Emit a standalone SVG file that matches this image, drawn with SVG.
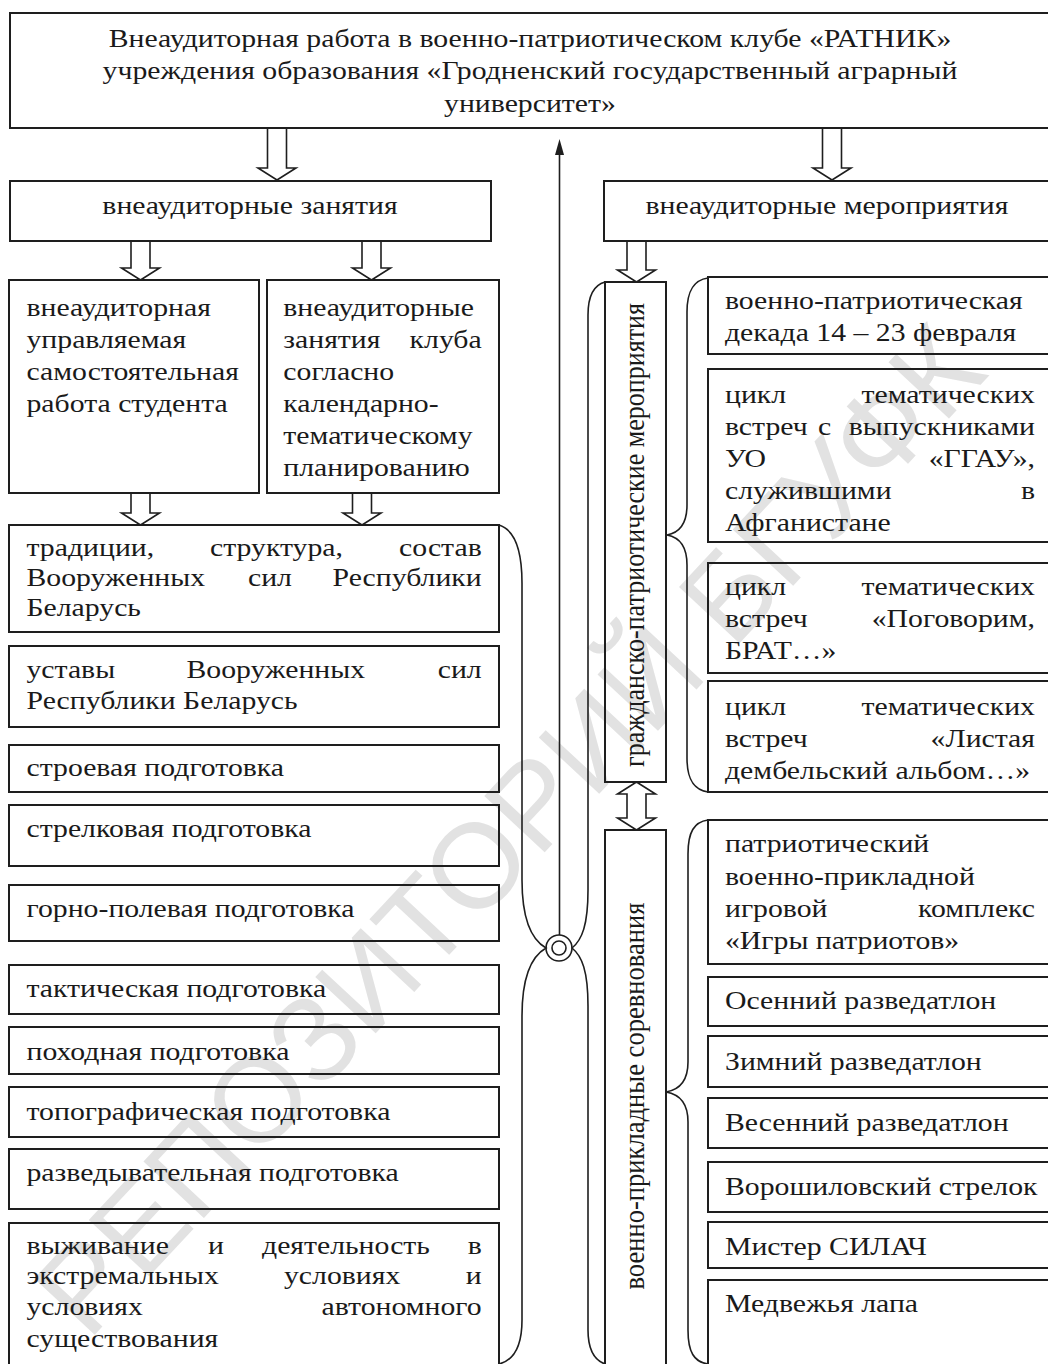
<svg xmlns="http://www.w3.org/2000/svg" width="1048" height="1364" viewBox="0 0 1048 1364">
<style>
.box{fill:none;stroke:#1e1e1e;stroke-width:2}
.t{font-family:"Liberation Serif","Times New Roman",serif;font-size:25px;fill:#1a1a1a}
.m{text-anchor:middle}
.e{text-anchor:end}
.arr{fill:none;stroke:#1e1e1e;stroke-width:1.6;stroke-linejoin:miter}
.br{fill:none;stroke:#1e1e1e;stroke-width:1.6}
.wm{font-family:"Liberation Sans",Arial,sans-serif;font-size:120px;fill:#e2e2e2}
</style>
<rect x="0" y="0" width="1048" height="1364" fill="#ffffff"/>
<g id="watermark"><text class="wm" transform="translate(88,1342) rotate(-47)" x="0" y="0">РЕПОЗИТОРИЙ БГУФК</text></g>

<g id="connectors">
<path class="arr" d="M267.5,128 V168 H258 L277,180 L296,168 H286.5 V128"/>
<path class="arr" d="M822.5,128 V168 H813 L832,180 L851,168 H841.5 V128"/>
<path class="arr" d="M131,241 V268 H121.5 L140.5,280 L159.5,268 H150 V241"/>
<path class="arr" d="M362,241 V268 H352.5 L371.5,280 L390.5,268 H381 V241"/>
<path class="arr" d="M627,241 V270 H617.5 L636.5,282 L655.5,270 H646 V241"/>
<path class="arr" d="M131,493 V513 H121.5 L140.5,525 L159.5,513 H150 V493"/>
<path class="arr" d="M352.5,493 V513 H343 L362,525 L381,513 H371.5 V493"/>
<path class="arr" d="M636.5,782 L655.5,794 H646 V818 H655.5 L636.5,830 L617.5,818 H627 V794 H617.5 Z"/>
<path class="br" d="M559.5,935 V152"/>
<polygon points="559.5,139 564,155 555,155" fill="#1e1e1e"/>
<circle class="br" cx="559" cy="948" r="13"/>
<circle class="br" cx="559" cy="948" r="7"/>
<path class="br" d="M499,525 C515,530 522,550 522,583 L522,880 C522,920 532,940 546,948 C532,956 522,976 522,1016 L522,1320 C522,1345 515,1360 499,1364"/>
<path class="br" d="M605,282 C594,285 588,295 588,315 L588,890 C588,925 582,940 572,948 C582,956 588,971 588,1006 L588,1330 C588,1350 594,1360 605,1364"/>
<path class="br" d="M708,278 C694,280 687,290 687,312 L687,505 C687,525 678,533 667,535 C678,537 687,545 687,565 L687,758 C687,780 694,790 708,792"/>
<path class="br" d="M708,820 C694,822 688,832 688,854 L688,1062 C688,1082 678,1090 666,1092 C678,1094 688,1102 688,1122 L688,1330 C688,1352 694,1362 708,1364"/>
</g>

<g id="n-top"><rect class="box" x="10" y="13" width="1048" height="115"/>
<g transform="scale(1.19 1)">
<text class="t m" x="445.38" y="47">Внеаудиторная работа в военно-патриотическом клубе «РАТНИК»</text>
<text class="t m" x="445.38" y="79">учреждения образования «Гродненский государственный аграрный</text>
<text class="t m" x="445.38" y="112">университет»</text>
</g></g>

<g id="n-zan"><rect class="box" x="10" y="181" width="481" height="60"/>
<g transform="scale(1.19 1)"><text class="t m" x="210.08" y="214">внеаудиторные занятия</text></g></g>

<g id="n-mer"><rect class="box" x="604" y="181" width="454" height="60"/>
<g transform="scale(1.19 1)"><text class="t m" x="694.96" y="214">внеаудиторные мероприятия</text></g></g>

<g id="n-usr"><rect class="box" x="9" y="280" width="250" height="213"/>
<g transform="scale(1.19 1)">
<text class="t" x="22.27" y="316">внеаудиторная</text>
<text class="t" x="22.27" y="348">управляемая</text>
<text class="t" x="22.27" y="380">самостоятельная</text>
<text class="t" x="22.27" y="412">работа студента</text>
</g></g>

<g id="n-klub"><rect class="box" x="267" y="280" width="232" height="213"/>
<g transform="scale(1.19 1)">
<text class="t" x="238.1" y="316">внеаудиторные</text>
<text class="t" y="348"><tspan x="238.1">занятия </tspan><tspan x="404.79" class="e">клуба</tspan></text>
<text class="t" x="238.1" y="380">согласно</text>
<text class="t" x="238.1" y="412">календарно-</text>
<text class="t" x="238.1" y="444">тематическому</text>
<text class="t" x="238.1" y="476">планированию</text>
</g></g>

<g id="n-trad"><rect class="box" x="9" y="525" width="490" height="107"/>
<g transform="scale(1.19 1)">
<text class="t" y="556"><tspan x="22.27">традиции, </tspan><tspan x="176.47">структура, </tspan><tspan x="404.79" class="e">состав</tspan></text>
<text class="t" y="586"><tspan x="22.27">Вооруженных </tspan><tspan x="208.4">сил </tspan><tspan x="404.79" class="e">Республики</tspan></text>
<text class="t" x="22.27" y="616">Беларусь</text>
</g></g>

<g id="n-ust"><rect class="box" x="9" y="646" width="490" height="81"/>
<g transform="scale(1.19 1)">
<text class="t" y="678"><tspan x="22.27">уставы </tspan><tspan x="156.72">Вооруженных </tspan><tspan x="404.79" class="e">сил</tspan></text>
<text class="t" x="22.27" y="709">Республики Беларусь</text>
</g></g>

<g id="n-stroy"><rect class="box" x="9" y="745" width="490" height="47"/>
<g transform="scale(1.19 1)"><text class="t" x="22.27" y="776">строевая подготовка</text></g></g>
<g id="n-strel"><rect class="box" x="9" y="805" width="490" height="61"/>
<g transform="scale(1.19 1)"><text class="t" x="22.27" y="837">стрелковая подготовка</text></g></g>
<g id="n-gorn"><rect class="box" x="9" y="885" width="490" height="56"/>
<g transform="scale(1.19 1)"><text class="t" x="22.27" y="917">горно-полевая подготовка</text></g></g>
<g id="n-takt"><rect class="box" x="9" y="965" width="490" height="49"/>
<g transform="scale(1.19 1)"><text class="t" x="22.27" y="997">тактическая подготовка</text></g></g>
<g id="n-pohod"><rect class="box" x="9" y="1027" width="490" height="47"/>
<g transform="scale(1.19 1)"><text class="t" x="22.27" y="1060">походная подготовка</text></g></g>
<g id="n-topo"><rect class="box" x="9" y="1087" width="490" height="50"/>
<g transform="scale(1.19 1)"><text class="t" x="22.27" y="1120">топографическая подготовка</text></g></g>
<g id="n-razv"><rect class="box" x="9" y="1149" width="490" height="60"/>
<g transform="scale(1.19 1)"><text class="t" x="22.27" y="1181">разведывательная подготовка</text></g></g>
<g id="n-vyzh"><rect class="box" x="9" y="1223" width="490" height="150"/>
<g transform="scale(1.19 1)">
<text class="t" y="1254"><tspan x="22.27">выживание </tspan><tspan x="174.79">и </tspan><tspan x="220.17">деятельность </tspan><tspan x="404.79" class="e">в</tspan></text>
<text class="t" y="1284"><tspan x="22.27">экстремальных </tspan><tspan x="238.66">условиях </tspan><tspan x="404.79" class="e">и</tspan></text>
<text class="t" y="1315"><tspan x="22.27">условиях </tspan><tspan x="404.79" class="e">автономного</tspan></text>
<text class="t" x="22.27" y="1347">существования</text>
</g></g>

<g id="n-grazh"><rect class="box" x="605" y="282" width="61" height="500"/>
<text class="t m" font-size="26" transform="translate(635.5,535) rotate(-90) scale(1 1.19)" x="0" y="7" textLength="464" lengthAdjust="spacingAndGlyphs">гражданско-патриотические мероприятия</text></g>

<g id="n-voen"><rect class="box" x="605" y="830" width="61" height="545"/>
<text class="t m" font-size="26" transform="translate(635.5,1096) rotate(-90) scale(1 1.19)" x="0" y="7" textLength="387" lengthAdjust="spacingAndGlyphs">военно-прикладные соревнования</text></g>

<g id="n-dekada"><rect class="box" x="708" y="277" width="350" height="77"/>
<g transform="scale(1.19 1)">
<text class="t" x="609.24" y="309">военно-патриотическая</text>
<text class="t" x="609.24" y="341">декада 14 – 23 февраля</text>
</g></g>

<g id="n-vypusk"><rect class="box" x="708" y="369" width="350" height="173"/>
<g transform="scale(1.19 1)">
<text class="t" y="403"><tspan x="609.24">цикл </tspan><tspan x="869.75" class="e">тематических</tspan></text>
<text class="t" y="435"><tspan x="609.24">встреч </tspan><tspan x="687.39">с </tspan><tspan x="869.75" class="e">выпускниками</tspan></text>
<text class="t" y="467"><tspan x="609.24">УО </tspan><tspan x="869.75" class="e">«ГГАУ»,</tspan></text>
<text class="t" y="499"><tspan x="609.24">служившими </tspan><tspan x="869.75" class="e">в</tspan></text>
<text class="t" x="609.24" y="531">Афганистане</text>
</g></g>

<g id="n-brat"><rect class="box" x="708" y="563" width="350" height="110"/>
<g transform="scale(1.19 1)">
<text class="t" y="595"><tspan x="609.24">цикл </tspan><tspan x="869.75" class="e">тематических</tspan></text>
<text class="t" y="627"><tspan x="609.24">встреч </tspan><tspan x="869.75" class="e">«Поговорим,</tspan></text>
<text class="t" x="609.24" y="659">БРАТ…»</text>
</g></g>

<g id="n-album"><rect class="box" x="708" y="681" width="350" height="111"/>
<g transform="scale(1.19 1)">
<text class="t" y="715"><tspan x="609.24">цикл </tspan><tspan x="869.75" class="e">тематических</tspan></text>
<text class="t" y="747"><tspan x="609.24">встреч </tspan><tspan x="869.75" class="e">«Листая</tspan></text>
<text class="t" x="609.24" y="779">дембельский альбом…»</text>
</g></g>

<g id="n-igry"><rect class="box" x="708" y="820" width="350" height="144"/>
<g transform="scale(1.19 1)">
<text class="t" x="609.24" y="852">патриотический</text>
<text class="t" x="609.24" y="885">военно-прикладной</text>
<text class="t" y="917"><tspan x="609.24">игровой </tspan><tspan x="869.75" class="e">комплекс</tspan></text>
<text class="t" x="609.24" y="949">«Игры патриотов»</text>
</g></g>

<g id="n-osen"><rect class="box" x="708" y="977" width="350" height="49"/>
<g transform="scale(1.19 1)"><text class="t" x="609.24" y="1009">Осенний разведатлон</text></g></g>
<g id="n-zima"><rect class="box" x="708" y="1036" width="350" height="51"/>
<g transform="scale(1.19 1)"><text class="t" x="609.24" y="1070">Зимний разведатлон</text></g></g>
<g id="n-vesna"><rect class="box" x="708" y="1098" width="350" height="50"/>
<g transform="scale(1.19 1)"><text class="t" x="609.24" y="1131">Весенний разведатлон</text></g></g>
<g id="n-vorosh"><rect class="box" x="708" y="1162" width="350" height="50"/>
<g transform="scale(1.19 1)"><text class="t" x="609.24" y="1195">Ворошиловский стрелок</text></g></g>
<g id="n-silach"><rect class="box" x="708" y="1222" width="350" height="46"/>
<g transform="scale(1.19 1)"><text class="t" x="609.24" y="1255">Мистер СИЛАЧ</text></g></g>
<g id="n-lapa"><rect class="box" x="708" y="1280" width="350" height="95"/>
<g transform="scale(1.19 1)"><text class="t" x="609.24" y="1312">Медвежья лапа</text></g></g>
</svg>
